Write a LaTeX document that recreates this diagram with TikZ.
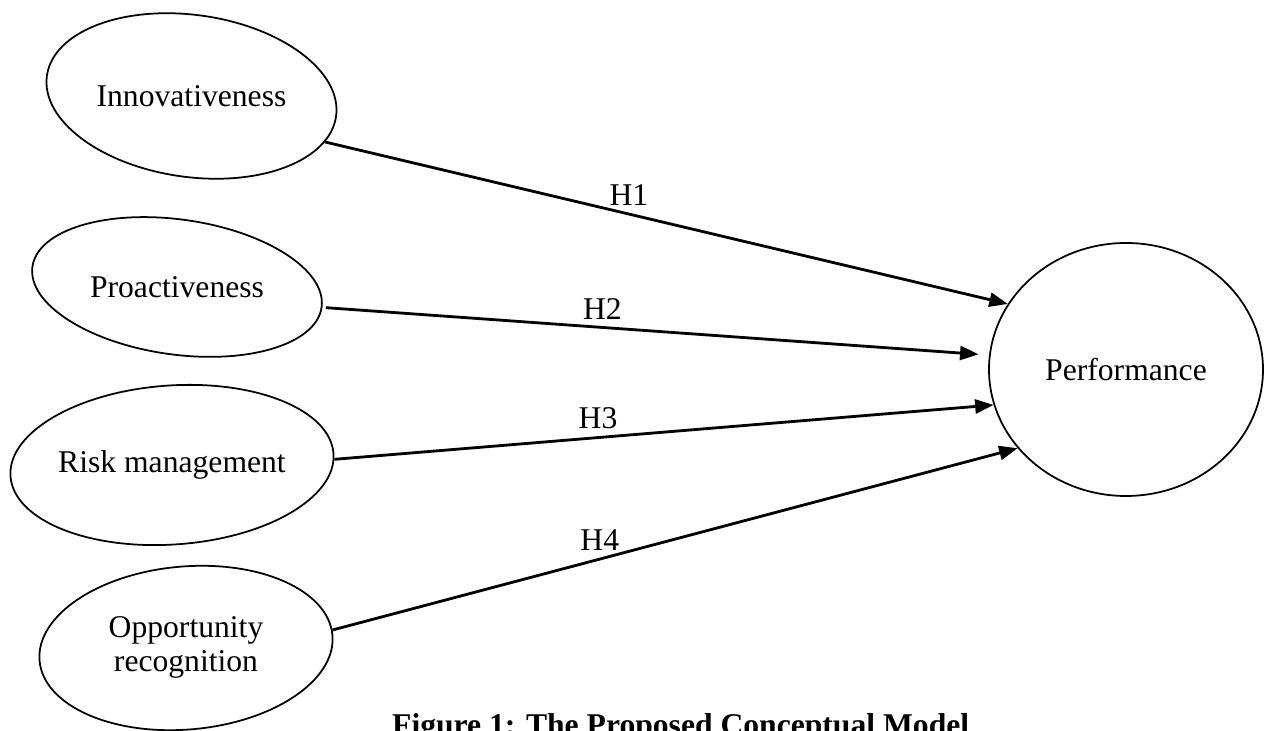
\documentclass[tikz,border=0pt]{standalone}
\usepackage{fontspec}
\setmainfont{Liberation Serif}
\usepackage{graphicx}
\usetikzlibrary{shapes.geometric,arrows.meta}

\tikzset{
  construct/.style={ellipse, draw, line width=1pt, inner sep=0pt, font=\fontsize{18}{19.3}\selectfont},
  hyp/.style={-{Triangle[length=10.5pt,width=8pt]}, line width=1.6pt},
  hlabel/.style={above, inner sep=4pt, font=\fontsize{18}{19.3}\selectfont}
}

\begin{document}
\begin{tikzpicture}
    \useasboundingbox (0,0) rectangle (25.28,14.62);

    % Independent constructs (tilted ovals)
    \node[construct, rotate=-8, minimum width=5.84cm, minimum height=3.24cm] (inno) at (3.83,12.70) {\rotatebox{8}{Innovativeness}};
    \node[construct, rotate=-8, minimum width=5.84cm, minimum height=2.70cm] (pro) at (3.54,8.88) {\rotatebox{8}{Proactiveness}};
    \node[construct, rotate=4, minimum width=6.40cm, minimum height=3.18cm] (risk) at (3.44,5.32) {\rotatebox{-4}{Risk management}};
    \node[construct, rotate=5, minimum width=5.88cm, minimum height=3.26cm] (opp) at (3.72,1.66) {\rotatebox{-5}{\begin{tabular}{@{}c@{}}Opportunity\\recognition\end{tabular}}};

    % Dependent construct
    \node[construct, minimum width=5.48cm, minimum height=5.06cm] (perf) at (22.52,7.23) {Performance};

    % Hypothesised paths
    \draw[hyp] (inno.-11) -- (perf.151) node[hlabel, pos=0.445] {H1};
    \draw[hyp, shorten <=2pt, shorten >=6pt] (pro.0) -- (perf.174) node[hlabel, pos=0.42] {H2};
    \draw[hyp] (risk.-2) -- (perf.195) node[hlabel, pos=0.4] {H3};
    \draw[hyp] (opp.2) -- (perf.216) node[hlabel, pos=0.39] {H4};

    % Caption (cut by the page edge)
    \node[anchor=base west, font=\bfseries\fontsize{18}{19.3}\selectfont] (caption) at (7.72,-0.10) {Figure 1: The Proposed Conceptual Model};
\end{tikzpicture}
\end{document}
